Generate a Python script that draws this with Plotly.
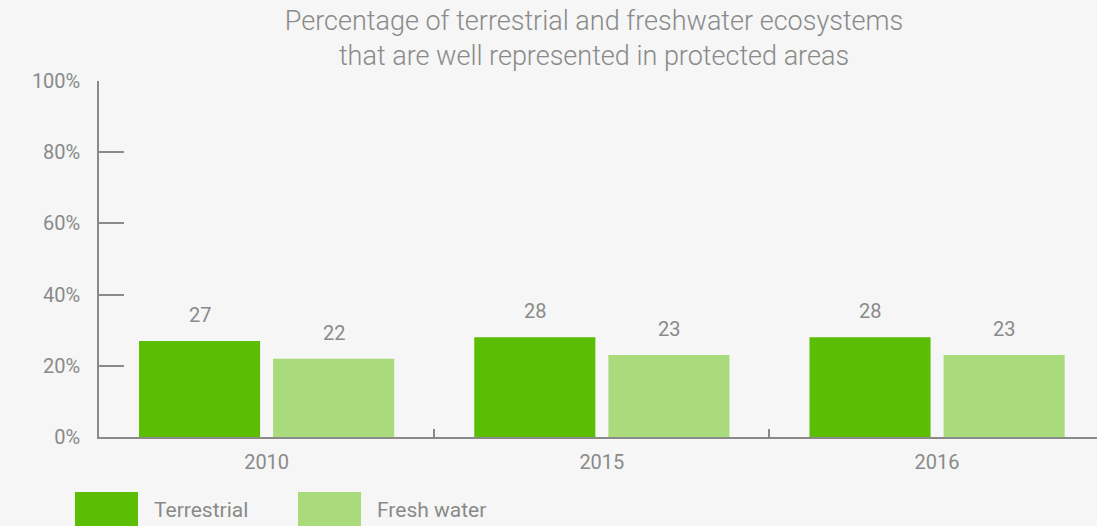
import plotly.graph_objects as go

years = ["2010", "2015", "2016"]
terrestrial = [27, 28, 28]
fresh_water = [22, 23, 23]
y_ticks = [0, 20, 40, 60, 80, 100]
y_tick_labels = ["0%", "20%", "40%", "60%", "80%", "100%"]

grey = "#8a8a8a"
bg = "#f5f6f5"
green_dark = "#5bbe05"
green_light = "#a9db7d"
font_family = "Roboto"

fig = go.Figure()
fig.add_trace(go.Bar(x=years, y=terrestrial, name="Terrestrial",
                     marker=dict(color=green_dark, line=dict(width=0))))
fig.add_trace(go.Bar(x=years, y=fresh_water, name="Fresh water",
                     marker=dict(color=green_light, line=dict(width=0))))

# value labels above bars (x given as category index)
annotations = []
for i, (t, f) in enumerate(zip(terrestrial, fresh_water)):
    annotations.append(dict(x=i, y=t, xref="x", yref="y", text=str(t), showarrow=False,
                            xshift=-67, yshift=26, font=dict(size=20, color=grey, family=font_family)))
    annotations.append(dict(x=i, y=f, xref="x", yref="y", text=str(f), showarrow=False,
                            xshift=67, yshift=26, font=dict(size=20, color=grey, family=font_family)))

# custom legend with large swatches
W, H = 1097, 526
shapes = []
for x0, x1, col, label, tx in [(75, 138, green_dark, "Terrestrial", 152),
                               (298, 361, green_light, "Fresh water", 375)]:
    shapes.append(dict(type="rect", xref="paper", yref="paper",
                       x0=(x0 - 99) / (W - 99), x1=(x1 - 99) / (W - 99),
                       y0=-(530 - 437) / (437 - 81), y1=-(492 - 437) / (437 - 81),
                       fillcolor=col, line=dict(width=0), layer="above"))
    annotations.append(dict(x=(tx - 99) / (W - 99), y=-(510 - 437) / (437 - 81),
                            xref="paper", yref="paper", text=label, showarrow=False,
                            xanchor="left", yanchor="middle",
                            font=dict(size=21, color=grey, family=font_family)))

fig.update_layout(
    width=W, height=H,
    paper_bgcolor=bg, plot_bgcolor=bg,
    margin=dict(l=99, r=0, t=81, b=89),
    barmode="group", bargap=0.2, bargroupgap=0.097,
    showlegend=False,
    title=dict(text="Percentage of terrestrial and freshwater ecosystems<br>that are well represented in protected areas",
               x=594 / W, xanchor="center", y=1 - 30 / H, yanchor="top",
               font=dict(size=27, color=grey, family=font_family, weight=300)),
    font=dict(family=font_family, color=grey, size=19),
    annotations=annotations,
    shapes=shapes,
)
fig.update_xaxes(type="category", range=[-0.5, 2.477],
                 showline=True, linecolor=grey, linewidth=1.5,
                 ticks="inside", tickson="boundaries", ticklen=8, tickcolor=grey, tickwidth=1.5,
                 showgrid=False, zeroline=False,
                 tickfont=dict(size=20, color=grey, family=font_family), ticklabelstandoff=6)
fig.update_yaxes(range=[0, 100], tickvals=y_ticks, ticktext=y_tick_labels,
                 showline=True, linecolor=grey, linewidth=1.5,
                 ticks="inside", ticklen=25, tickcolor=grey, tickwidth=1.5,
                 showgrid=False, zeroline=False,
                 tickfont=dict(size=20, color=grey, family=font_family), ticklabelstandoff=13)

fig.write_html("out.html", config={"displayModeBar": False},
               post_script="document.body.style.margin='0';")
